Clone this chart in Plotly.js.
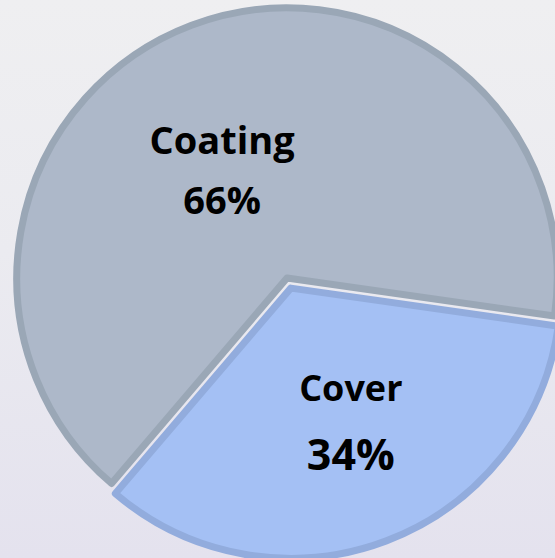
<!DOCTYPE html>
<html>
<head>
<meta charset="utf-8">
<script src="https://cdn.plot.ly/plotly-3.0.1.min.js"></script>
<style>
  html, body { margin: 0; padding: 0; width: 555px; height: 558px; overflow: hidden; }
  body { background: linear-gradient(to bottom, #efeff1 0%, #ebebf0 45%, #e4e2ee 100%); position: relative; }
  #chart { position: absolute; left: 6px; top: -3px; width: 562px; height: 562px; }
</style>
</head>
<body>
<div id="chart"></div>
<script>
const labels = ['Coating', 'Cover'];
const values = [66, 34];
const sliceColors = ['#adb8c9', '#a4c0f4'];
const borderColors = ['#9aa7b6', '#92acdd'];
const pulls = [0, 0.04];

const NB = '\u00A0';
const pad = (n, size) => '<span style="font-size:' + size + 'px">' + NB.repeat(n) + '</span>';
const brs = n => '<br>'.repeat(n);

const templates = [
  pad(1, 1) + brs(5) +
    '<span style="font-size:38px"><b>%{label}</b></span>' + pad(4, 33) + brs(4) +
    '<span style="font-size:38px"><b>%{percent}</b></span>' + pad(4, 33),
  pad(2, 35) + '<span style="font-size:36px"><b>%{label}</b></span>' + brs(4) +
    pad(2, 35) + '<span style="font-size:43px"><b>%{percent}</b></span>'
];

const trace = {
  type: 'pie',
  labels: labels,
  values: values,
  sort: false,
  direction: 'clockwise',
  rotation: 220.5,
  pull: pulls,
  marker: { colors: sliceColors, line: { color: borderColors, width: 7 } },
  textinfo: 'label+percent',
  texttemplate: templates,
  textposition: 'inside',
  insidetextorientation: 'horizontal',
  textfont: { family: 'Open Sans, DejaVu Sans, sans-serif', color: '#000000', size: [11.6, 13.27] },
  hoverinfo: 'none',
  showlegend: false
};

const layout = {
  width: 562,
  height: 562,
  margin: { l: 0, r: 0, t: 0, b: 0, pad: 0 },
  paper_bgcolor: 'rgba(0,0,0,0)',
  plot_bgcolor: 'rgba(0,0,0,0)',
  showlegend: false
};

Plotly.newPlot('chart', [trace], layout, { displayModeBar: false, staticPlot: true });
</script>
</body>
</html>
